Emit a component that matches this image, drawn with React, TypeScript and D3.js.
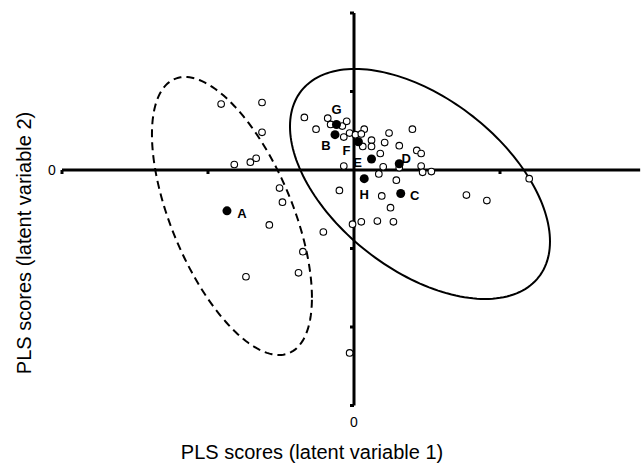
import React from "react";
import * as d3 from "d3";

// ---- data ----
const X_TICKS = [-2, -1, 0, 1, 2];
const Y_TICKS = [2, 1, 0, -1, -2, -3];
const X_TICK_LABELS = ["0"];
const Y_TICK_LABELS = ["0"];

const OPEN_X = [
  -0.34, -0.18, -0.16, -0.08, -0.05, -0.26, -0.07, -0.03, 0.01, 0.07, 0.05, 0.24, 0.4,
  0.12, 0.12, 0.06, 0.21, 0.18, 0.31, 0.43, 0.46, -0.07, 0.2, 0.31, 0.46, 0.47, 0.53,
  0.17, 0.29, -0.1, 0.19, 0.25, -0.01, 0.05, 0.16, 0.27, -0.21, 0.77, 0.91, 1.2, -0.03,
  -0.91, -0.63, -0.63, -0.82, -0.71, -0.67, -0.51, -0.49, -0.58, -0.35, -0.38, -0.74,
];
const OPEN_Y = [
  0.67, 0.66, 0.58, 0.56, 0.62, 0.52, 0.42, 0.47, 0.45, 0.52, 0.46, 0.47, 0.52,
  0.38, 0.3, 0.3, 0.35, 0.21, 0.31, 0.25, 0.21, 0.05, 0.04, 0.03, 0.05, -0.03, -0.02,
  -0.05, -0.13, -0.26, -0.33, -0.48, -0.69, -0.66, -0.65, -0.66, -0.79, -0.32, -0.39, -0.11, -2.33,
  0.84, 0.86, 0.48, 0.07, 0.1, 0.15, -0.23, -0.41, -0.7, -1.04, -1.31, -1.36,
];

const FILLED_LABELS = ["G", "B", "F", "E", "D", "H", "C", "A"];
const FILLED_X = [-0.12, -0.13, 0.03, 0.12, 0.31, 0.07, 0.32, -0.87];
const FILLED_Y = [0.58, 0.45, 0.36, 0.14, 0.08, -0.11, -0.3, -0.52];

// ellipses: centre and covariance-like shape in data units
const SOLID_ELLIPSE = [0.452, -0.178, 0.7928, 2.146, -0.6522]; // cx, cy, sxx, syy, sxy
const DASHED_ELLIPSE = [-0.836, -0.586, 0.3002, 3.135, -0.57];

// label offsets (px) for the filled points
const LABEL_DX = [0, -9, -12, -14, 7, 0, 14, 15];
const LABEL_DY = [-15, 10, 8, 3, -6, 15, 1, 2];

const W = 643;
const H = 463;

const x = d3.scaleLinear().domain([-2, 2]).range([62, 646]);
const y = d3.scaleLinear().domain([-3, 2]).range([405.5, 13]);

function ellipsePath(e: number[]) {
  const [cx, cy, sxx, syy, sxy] = e;
  const l11 = Math.sqrt(sxx);
  const l21 = sxy / l11;
  const l22 = Math.sqrt(syy - l21 * l21);
  const ts = d3.range(0, 2 * Math.PI, Math.PI / 90);
  const pts: [number, number][] = ts.map((t) => [
    cx + l11 * Math.cos(t),
    cy + l21 * Math.cos(t) + l22 * Math.sin(t),
  ]);
  const line = d3
    .line<[number, number]>()
    .x((d) => x(d[0]))
    .y((d) => y(d[1]))
    .curve(d3.curveLinearClosed);
  return line(pts) || "";
}

export default function App() {
  const font = "'Liberation Sans', Arial, Helvetica, sans-serif";
  const x0 = x(0);
  const y0 = y(0);
  return (
    <svg
      width={W}
      height={H}
      style={{ position: "absolute", left: 0, top: 0, background: "#fff" }}
      fontFamily={font}
    >
      <rect width={W} height={H} fill="#fff" />
      {/* ellipses */}
      <path d={ellipsePath(SOLID_ELLIPSE)} fill="none" stroke="#000" strokeWidth={2} />
      <path
        d={ellipsePath(DASHED_ELLIPSE)}
        fill="none"
        stroke="#000"
        strokeWidth={2}
        strokeDasharray="8 5"
      />
      {/* axes */}
      <line x1={x(-2)} x2={x(1.96)} y1={y0} y2={y0} stroke="#000" strokeWidth={3} />
      <line x1={x0} x2={x0} y1={y(2)} y2={y(-3)} stroke="#000" strokeWidth={3} />
      {X_TICKS.filter((t) => t !== 0 && t < 2).map((t) => (
        <line key={"xt" + t} x1={x(t)} x2={x(t)} y1={y0} y2={y0 + 4} stroke="#000" strokeWidth={3} />
      ))}
      {Y_TICKS.filter((t) => t !== 0).map((t) => (
        <line key={"yt" + t} x1={x0 - 4} x2={x0} y1={y(t)} y2={y(t)} stroke="#000" strokeWidth={3} />
      ))}
      <text x={52} y={y0 + 5} fontSize={14} textAnchor="middle">
        {Y_TICK_LABELS[0]}
      </text>
      <text x={x0} y={y(-3) + 21} fontSize={14} textAnchor="middle">
        {X_TICK_LABELS[0]}
      </text>
      {/* open points */}
      {OPEN_X.map((vx, i) => (
        <circle
          key={"o" + i}
          cx={x(vx)}
          cy={y(OPEN_Y[i])}
          r={3.3}
          fill="#fff"
          stroke="#000"
          strokeWidth={1.1}
        />
      ))}
      {/* filled points */}
      {FILLED_X.map((vx, i) => (
        <g key={"f" + i}>
          <circle cx={x(vx)} cy={y(FILLED_Y[i])} r={4.5} fill="#000" />
          <text
            x={x(vx) + LABEL_DX[i]}
            y={y(FILLED_Y[i]) + LABEL_DY[i] + 5}
            fontSize={13}
            fontWeight="bold"
            textAnchor="middle"
          >
            {FILLED_LABELS[i]}
          </text>
        </g>
      ))}
      {/* axis titles */}
      <text x={312} y={459} fontSize={20} textAnchor="middle">
        PLS scores (latent variable 1)
      </text>
      <text
        transform={`translate(31, 243) rotate(-90)`}
        fontSize={20}
        textAnchor="middle"
      >
        PLS scores (latent variable 2)
      </text>
    </svg>
  );
}
